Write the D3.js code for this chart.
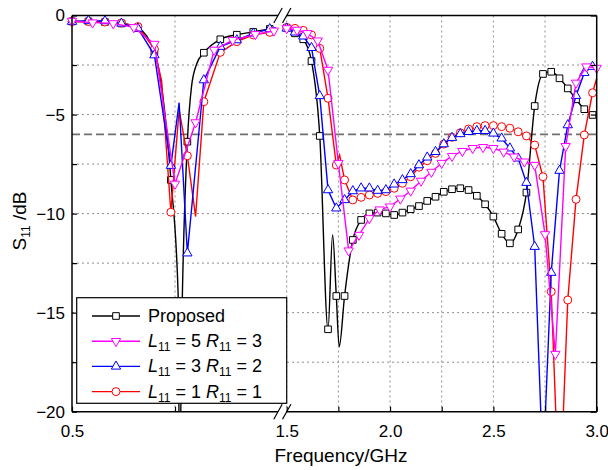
<!DOCTYPE html>
<html>
<head>
<meta charset="utf-8">
<script src="https://cdn.jsdelivr.net/npm/d3@7"></script>
<style>
  body { margin: 0; background: #fff; }
  svg text { font-family: "Liberation Sans", Arial, Helvetica, sans-serif; fill: #000; }
</style>
</head>
<body>
<svg id="chart" width="608" height="470"></svg>
<script>
// ---- values ----
// left panel 0.5-1.5 GHz, right panel 1.5-3.0 GHz (broken axis)
// *Marks = points drawn with a marker, *Extra = plain curve points (peaks, dips, ends)

// Proposed (black squares)
const propMarksL = [[0.50,-0.30],[0.58,-0.30],[0.66,-0.33],[0.74,-0.40],[0.82,-0.62],[0.90,-1.83],[0.98,-8.30],
  [1.06,-6.37],[1.14,-1.88],[1.22,-1.20],[1.30,-0.97],[1.38,-0.83],[1.46,-0.68]];
const propExtraL = [[1.015,-14.0],[1.022,-23.0],[1.036,-14.0],[1.08,-3.6],[1.105,-2.45],[1.49,-0.64]];
const propMarksR = [[1.50,-0.62],[1.54,-0.90],[1.58,-1.20],[1.62,-2.30],[1.66,-6.08],[1.70,-15.84],[1.74,-14.16],
  [1.78,-14.16],[1.82,-11.33],[1.86,-10.32],[1.90,-9.99],[1.94,-9.95],[1.98,-9.99],[2.02,-10.07],[2.06,-9.95],
  [2.10,-9.78],[2.14,-9.62],[2.18,-9.36],[2.22,-9.15],[2.26,-8.90],[2.30,-8.77],[2.34,-8.72],[2.38,-8.81],
  [2.42,-9.10],[2.46,-9.53],[2.50,-10.15],[2.54,-11.02],[2.58,-11.50],[2.62,-10.80],[2.66,-8.94],[2.70,-4.57],
  [2.74,-2.95],[2.78,-2.84],[2.82,-3.17],[2.86,-3.68],[2.90,-4.23],[2.94,-4.73],[2.98,-5.02]];
const propExtraR = [[1.722,-11.08],[1.754,-16.72],[3.0,-5.10]];

// L11 = 5 R11 = 3 (magenta, down triangles)
const magMarksL = [[0.50,-0.28],[0.60,-0.36],[0.70,-0.40],[0.80,-0.60],[0.90,-1.44],[1.00,-8.50],[1.10,-5.40],
  [1.19,-1.74],[1.28,-1.24],[1.39,-0.95],[1.48,-0.77]];
const magExtraL = [];
const magMarksR = [[1.50,-0.65],[1.55,-0.73],[1.60,-0.90],[1.65,-1.27],[1.70,-2.75],[1.75,-7.46],[1.80,-11.87],
  [1.85,-11.08],[1.90,-10.24],[1.95,-9.80],[2.00,-9.65],[2.05,-9.25],[2.10,-8.85],[2.15,-8.35],[2.20,-7.90],
  [2.25,-7.45],[2.30,-7.10],[2.35,-6.85],[2.40,-6.70],[2.45,-6.65],[2.50,-6.70],[2.55,-6.88],[2.60,-7.13],
  [2.65,-7.38],[2.70,-7.55],[2.75,-11.05],[2.80,-17.09],[2.85,-6.60],[2.90,-3.40],[2.95,-2.58],[3.00,-2.65]];
const magExtraR = [];

// L11 = 3 R11 = 2 (blue, up triangles)
const blueMarksL = [[0.50,-0.31],[0.58,-0.26],[0.66,-0.28],[0.74,-0.40],[0.82,-0.65],[0.90,-2.00],[0.98,-7.58],
  [1.06,-12.0],[1.14,-3.26],[1.22,-1.57],[1.30,-1.24],[1.38,-0.90],[1.46,-0.68]];
const blueExtraL = [[1.02,-4.40],[1.49,-0.62]];
const blueMarksR = [[1.50,-0.65],[1.54,-0.85],[1.58,-1.05],[1.62,-1.63],[1.66,-4.06],[1.70,-8.81],[1.74,-9.73],
  [1.78,-9.31],[1.82,-8.86],[1.86,-8.72],[1.90,-8.72],[1.94,-8.84],[1.98,-8.81],[2.02,-8.52],[2.06,-8.30],
  [2.10,-8.00],[2.14,-7.55],[2.18,-7.16],[2.22,-6.88],[2.26,-6.49],[2.30,-6.17],[2.34,-5.98],[2.38,-5.87],
  [2.42,-5.82],[2.46,-5.82],[2.50,-5.95],[2.54,-6.20],[2.58,-6.70],[2.62,-7.21],[2.66,-8.44],[2.70,-11.67],
  [2.74,-23.0],[2.78,-12.98],[2.82,-7.83],[2.86,-5.53],[2.90,-4.05],[2.94,-2.89],[2.98,-2.58]];
const blueExtraR = [[3.0,-2.60]];

// L11 = 1 R11 = 1 (red circles)
const redMarksL = [[0.50,-0.30],[0.58,-0.30],[0.66,-0.33],[0.74,-0.38],[0.82,-0.56],[0.90,-1.70],[0.98,-9.93],
  [1.06,-7.08],[1.14,-4.35],[1.22,-1.86],[1.30,-1.32],[1.38,-0.98],[1.46,-0.85]];
const redExtraL = [[0.935,-3.30],[1.02,-4.77],[1.10,-10.15],[1.49,-0.80]];
const redMarksR = [[1.50,-0.60],[1.54,-0.65],[1.58,-0.75],[1.62,-0.98],[1.66,-1.66],[1.70,-4.18],[1.74,-7.55],
  [1.78,-8.30],[1.82,-9.31],[1.86,-9.18],[1.90,-9.06],[1.94,-8.98],[1.98,-8.89],[2.02,-8.72],[2.06,-8.47],
  [2.10,-8.14],[2.14,-7.66],[2.18,-7.33],[2.22,-6.96],[2.26,-6.49],[2.30,-6.15],[2.34,-5.92],[2.38,-5.73],
  [2.42,-5.61],[2.46,-5.56],[2.50,-5.56],[2.54,-5.61],[2.58,-5.69],[2.62,-5.87],[2.66,-6.08],[2.70,-6.54],
  [2.74,-8.14],[2.78,-13.94],[2.82,-25.0],[2.86,-14.36],[2.90,-9.28],[2.94,-6.03],[2.98,-3.90]];
const redExtraR = [[1.756,-7.04],[3.0,-3.17]];

const legendLabels = ['Proposed', 'L11 = 5 R11 = 3', 'L11 = 3 R11 = 2', 'L11 = 1 R11 = 1'];
const yTicks = [0, -2.5, -5, -7.5, -10, -12.5, -15, -17.5, -20];
const xTicksL = [0.5, 1.0];
const xTicksR = [1.5, 1.75, 2.0, 2.25, 2.5, 2.75, 3.0];
const refLevel = -6; // dB reference line

// ---- layout ----
const X0 = 72, X1 = 596.7, Y0 = 15.5, Y1 = 411.7;
const breakL = 278, breakR = 286.7;

const xL = d3.scaleLinear().domain([0.5, 1.5]).range([X0, breakL]);
const xR = d3.scaleLinear().domain([1.5, 3.0]).range([breakR, X1]);
const y = d3.scaleLinear().domain([-20, 0]).range([Y1, Y0]);

const svg = d3.select('#chart');

svg.append('defs').append('clipPath').attr('id', 'plotclip')
  .append('rect').attr('x', 60).attr('y', Y0).attr('width', 545).attr('height', Y1 - Y0);

// grid lines
const grid = svg.append('g').attr('stroke', '#8f8f8f').attr('stroke-width', 1).attr('stroke-dasharray', '2,3');
grid.selectAll('.gh').data(yTicks.filter(d => d !== 0 && d !== -20)).join('line')
  .attr('x1', X0).attr('x2', X1).attr('y1', d => y(d)).attr('y2', d => y(d));
grid.selectAll('.gl').data([1.0]).join('line')
  .attr('x1', d => xL(d)).attr('x2', d => xL(d)).attr('y1', Y0).attr('y2', Y1);
grid.selectAll('.gr').data(xTicksR.filter(d => d < 3)).join('line')
  .attr('x1', d => xR(d)).attr('x2', d => xR(d)).attr('y1', Y0).attr('y2', Y1);

// -6 dB dashed reference
svg.append('line')
  .attr('x1', X0).attr('x2', X1).attr('y1', y(refLevel)).attr('y2', y(refLevel))
  .attr('stroke', '#707070').attr('stroke-width', 1.8).attr('stroke-dasharray', '8,4');

// ---- curves ----
const series = [
  { color: '#000000', sym: 'square', curve: d3.curveMonotoneX,
    parts: [[xL, propMarksL, propExtraL], [xR, propMarksR, propExtraR]] },
  { color: '#ff0000', sym: 'circle', curve: d3.curveLinear,
    parts: [[xL, redMarksL, redExtraL], [xR, redMarksR, redExtraR]] },
  { color: '#0000ff', sym: 'up', curve: d3.curveLinear,
    parts: [[xL, blueMarksL, blueExtraL], [xR, blueMarksR, blueExtraR]] },
  { color: '#ff00ff', sym: 'down', curve: d3.curveLinear,
    parts: [[xL, magMarksL, magExtraL], [xR, magMarksR, magExtraR]] }
];

function symbolPath(kind) {
  if (kind === 'square') return d3.symbol(d3.symbolSquare, 44)();
  if (kind === 'circle') return d3.symbol(d3.symbolCircle, 50)();
  return d3.symbol(d3.symbolTriangle, 38)();
}
function drawMarker(g, kind, color, px, py) {
  g.append('path')
    .attr('d', symbolPath(kind))
    .attr('transform', `translate(${px},${py})` + (kind === 'down' ? ' rotate(180)' : ''))
    .attr('fill', '#fff').attr('stroke', color).attr('stroke-width', 1);
}

const plot = svg.append('g').attr('clip-path', 'url(#plotclip)');

series.forEach(s => {
  const g = plot.append('g');
  s.parts.forEach(([xs, marks, extra]) => {
    const pts = marks.concat(extra).sort((a, b) => a[0] - b[0]);
    const line = d3.line().x(d => xs(d[0])).y(d => y(d[1])).curve(s.curve);
    g.append('path').attr('d', line(pts))
      .attr('fill', 'none').attr('stroke', s.color).attr('stroke-width', 1.4);
    marks.forEach(d => drawMarker(g, s.sym, s.color, xs(d[0]), y(d[1])));
  });
});

// ---- frame with axis break ----
const frame = svg.append('g').attr('stroke', '#000').attr('stroke-width', 1.5).attr('fill', 'none');
frame.append('line').attr('x1', X0).attr('x2', X0).attr('y1', Y0).attr('y2', Y1);
frame.append('line').attr('x1', X1).attr('x2', X1).attr('y1', Y0).attr('y2', Y1);
[Y0, Y1].forEach(yy => {
  frame.append('line').attr('x1', X0).attr('x2', breakL).attr('y1', yy).attr('y2', yy);
  frame.append('line').attr('x1', breakR).attr('x2', X1).attr('y1', yy).attr('y2', yy);
  [breakL, breakR].forEach(bx => {
    frame.append('line').attr('stroke-width', 1.2)
      .attr('x1', bx - 4.2).attr('y1', yy + 7.5).attr('x2', bx + 4.2).attr('y2', yy - 7.5);
  });
});

// ---- axes ----
const fmtY = d => (d % 5 === 0 ? d3.format('d')(d) : '');
const fmtX = d => (Math.abs(d * 2 - Math.round(d * 2)) < 1e-9 ? d3.format('.1f')(d) : '');

const yAxis = svg.append('g').attr('transform', `translate(${X0},0)`)
  .call(d3.axisLeft(y).tickValues(yTicks).tickFormat(fmtY).tickSize(-5).tickPadding(7));
const yAxisR = svg.append('g').attr('transform', `translate(${X1},0)`)
  .call(d3.axisRight(y).tickValues(yTicks).tickFormat('').tickSize(-6));
const xAxisL = svg.append('g').attr('transform', `translate(0,${Y1})`)
  .call(d3.axisBottom(xL).tickValues(xTicksL).tickFormat(d => (d === 0.5 ? '0.5' : '')).tickSize(-5).tickPadding(13));
const xAxisR = svg.append('g').attr('transform', `translate(0,${Y1})`)
  .call(d3.axisBottom(xR).tickValues(xTicksR).tickFormat(fmtX).tickSize(-5).tickPadding(13));

[yAxis, yAxisR, xAxisL, xAxisR].forEach(a => {
  a.select('.domain').remove();
  a.selectAll('.tick line').attr('stroke', '#000').attr('stroke-width', 1.2);
  a.selectAll('.tick text').attr('font-size', 17).attr('font-family', null);
});

// axis titles
svg.append('text')
  .attr('x', 341).attr('y', 462).attr('text-anchor', 'middle').attr('font-size', 19)
  .text('Frequency/GHz');

const yTitle = svg.append('text')
  .attr('transform', 'translate(26,221) rotate(-90)')
  .attr('text-anchor', 'middle').attr('font-size', 19);
yTitle.append('tspan').text('S');
yTitle.append('tspan').attr('font-size', 12).attr('dy', 4).text('11');
yTitle.append('tspan').attr('dy', -4).text(' /dB');

// ---- legend ----
const legend = svg.append('g');
legend.append('rect')
  .attr('x', 76.7).attr('y', 297.7).attr('width', 210).attr('height', 105.6)
  .attr('fill', '#fff').attr('stroke', '#000').attr('stroke-width', 1.2);

const legendOrder = [series[0], series[3], series[2], series[1]];
legendLabels.forEach((label, i) => {
  const s = legendOrder[i];
  const cy = 316 + i * 25.2;
  legend.append('line').attr('x1', 92).attr('x2', 140).attr('y1', cy).attr('y2', cy)
    .attr('stroke', s.color).attr('stroke-width', 1.4);
  drawMarker(legend, s.sym, s.color, 116, cy);

  const t = legend.append('text').attr('x', 148).attr('y', cy + 6).attr('font-size', 18);
  // italic L / R with upright subscript 11
  let lowered = false;
  label.split(/(L11|R11)/).filter(p => p !== '').forEach(p => {
    if (p === 'L11' || p === 'R11') {
      t.append('tspan').attr('font-style', 'italic').attr('dy', lowered ? -4 : 0).text(p[0]);
      t.append('tspan').attr('font-size', 12).attr('dy', 4).text('11');
      lowered = true;
    } else {
      t.append('tspan').attr('dy', lowered ? -4 : 0).text(p);
      lowered = false;
    }
  });
});
</script>
</body>
</html>
